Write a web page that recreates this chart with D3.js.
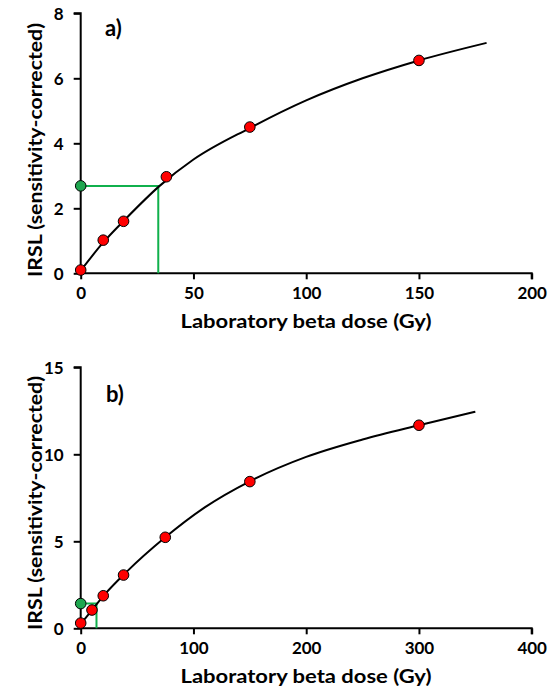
<!DOCTYPE html>
<html>
<head>
<meta charset="utf-8">
<script src="https://cdn.jsdelivr.net/npm/d3@7"></script>
<style>
  html, body { margin: 0; padding: 0; background: #fff; }
  svg { display: block; }
  text { font-family: Lato, "Open Sans", sans-serif; font-weight: bold; fill: #000; }
</style>
</head>
<body>
<svg id="chart" width="554" height="694"></svg>
<script>
// ---- Panel a) data ----
const doseA = [0, 10, 19, 38, 75, 150];
const irslA = [0.1, 1.02, 1.6, 2.97, 4.5, 6.55];
const fitDoseA = [0, 10, 20, 35, 50, 75, 100, 125, 150, 180];
const fitIrslA = [0.08, 0.95, 1.68, 2.69, 3.5, 4.47, 5.32, 6.0, 6.55, 7.09];
const naturalA = [0, 2.69];
const deA = 34.4;
const xTicksA = [0, 50, 100, 150, 200];
const yTicksA = [0, 2, 4, 6, 8];

// ---- Panel b) data ----
const doseB = [0, 10, 20, 38, 75, 150, 300];
const irslB = [0.3, 1.05, 1.87, 3.06, 5.23, 8.43, 11.67];
const fitDoseB = [0, 10, 20, 40, 75, 110, 150, 200, 250, 300, 350];
const fitIrslB = [0.25, 1.05, 1.85, 3.2, 5.23, 6.95, 8.45, 9.85, 10.85, 11.67, 12.45];
const naturalB = [0, 1.42];
const deB = 14;
const xTicksB = [0, 100, 200, 300, 400];
const yTicksB = [0, 5, 10, 15];

const xTitle = "Laboratory beta dose (Gy)";
const yTitle = "IRSL (sensitivity-corrected)";

const svg = d3.select("#chart");

function panel(cfg) {
  const x = d3.scaleLinear().domain(cfg.xDomain).range([80.7, 531.7]);
  const y = d3.scaleLinear().domain(cfg.yDomain).range([cfg.bottom, cfg.top]);
  const g = svg.append("g");

  // axes
  const xAxis = d3.axisBottom(x).tickValues(cfg.xTicks).tickSize(6).tickPadding(8);
  const gx = g.append("g").attr("transform", `translate(0,${cfg.bottom})`).call(xAxis);
  const yAxis = d3.axisLeft(y).tickValues(cfg.yTicks).tickSize(7).tickPadding(10);
  const gy = g.append("g").attr("transform", `translate(80.7,0)`).call(yAxis);
  [gx, gy].forEach(a => {
    a.select(".domain").attr("stroke", "#000").attr("stroke-width", 2);
    a.selectAll(".tick line").attr("stroke", "#000").attr("stroke-width", 2);
    a.selectAll(".tick text").style("font-size", "17px").attr("fill", "#000");
  });
  gx.select(".domain").attr("d", `M${x.range()[0]},0H${x.range()[1]}V6`);
  gy.select(".domain").attr("d", `M-7,${y.range()[1]}H0V${y.range()[0]}`);
  gy.selectAll(".tick text").attr("dy", "0.36em");

  // titles
  g.append("text").attr("x", 306).attr("y", cfg.bottom + 55)
    .attr("text-anchor", "middle").style("font-size", "18px")
    .attr("textLength", 251).attr("lengthAdjust", "spacingAndGlyphs").text(xTitle);
  g.append("text").attr("transform", `translate(41.5,${cfg.yTitleMid}) rotate(-90)`)
    .attr("text-anchor", "middle").style("font-size", "18px")
    .attr("textLength", 254).attr("lengthAdjust", "spacingAndGlyphs").text(yTitle);
  g.append("text").attr("x", cfg.labelX).attr("y", cfg.labelY)
    .style("font-size", "22px").text(cfg.label);

  // green De construction
  const de = cfg.de, nat = cfg.natural;
  g.append("path")
    .attr("d", `M${x(nat[0])},${y(nat[1])}H${x(de)}V${y(0)}`)
    .attr("fill", "none").attr("stroke", "#10b04c").attr("stroke-width", 2);

  // fitted curve
  const fitData = cfg.fitDose.map((d, i) => [d, cfg.fitIrsl[i]]);
  const line = d3.line().x(d => x(d[0])).y(d => y(d[1])).curve(d3.curveMonotoneX);
  g.append("path").datum(fitData).attr("d", line)
    .attr("fill", "none").attr("stroke", "#000").attr("stroke-width", 2);

  // points
  const pts = cfg.dose.map((d, i) => [d, cfg.irsl[i]]);
  g.selectAll("circle.reg").data(pts).join("circle").attr("class", "reg")
    .attr("cx", d => x(d[0])).attr("cy", d => y(d[1])).attr("r", 5.3)
    .attr("fill", "#ff0000").attr("stroke", "#000").attr("stroke-width", 1);
  g.append("circle").attr("cx", x(nat[0])).attr("cy", y(nat[1])).attr("r", 5.3)
    .attr("fill", "#1fa64f").attr("stroke", "#000").attr("stroke-width", 1);
}

panel({
  xDomain: [0, 200], yDomain: [0, 8], top: 13.3, bottom: 273.3,
  xTicks: xTicksA, yTicks: yTicksA,
  dose: doseA, irsl: irslA, fitDose: fitDoseA, fitIrsl: fitIrslA,
  natural: naturalA, de: deA,
  label: "a)", labelX: 105, labelY: 36, yTitleMid: 150
});
panel({
  xDomain: [0, 400], yDomain: [0, 15], top: 367.3, bottom: 628.3,
  xTicks: xTicksB, yTicks: yTicksB,
  dose: doseB, irsl: irslB, fitDose: fitDoseB, fitIrsl: fitIrslB,
  natural: naturalB, de: deB,
  label: "b)", labelX: 106, labelY: 402, yTitleMid: 503
});
</script>
</body>
</html>
